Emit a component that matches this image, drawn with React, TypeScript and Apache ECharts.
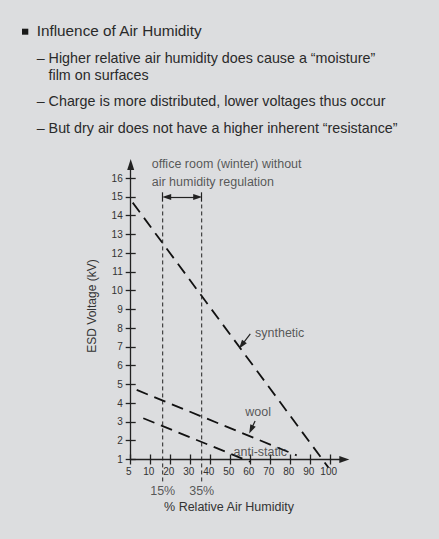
import React, { useEffect, useRef } from "react";
import * as echarts from "echarts";

// ---- data ----
const xTickValues = [0, 10, 20, 30, 40, 50, 60, 70, 80, 90, 100];
const xTickLabels = ["5", "10", "20", "30", "40", "50", "60", "70", "80", "90", "100"];
const yTickValues = [1, 2, 3, 4, 5, 6, 7, 8, 9, 10, 11, 12, 13, 14, 15, 16];

const syntheticLine = [[1, 14.7], [98.8, 0.58]];
const woolLine = [[3, 4.71], [83, 1.22]];
const antiStaticLine = [[6.3, 3.2], [59.7, 0.88]];

const officeBand = [16, 35.5];
const officeBandLabels = ["15%", "35%"];
const officeLineSpan = [-0.17, 14.6];
const officeArrowY = 15.0;
const officeBarSpan = [14.75, 15.25];

const curveNames = ["synthetic", "wool", "anti-static"];
const curveLabelPos = [[74.5, 7.73], [63.7, 3.51], [64.8, 1.42]];
const curveArrowFrom = [[59.8, 7.7], [62.2, 3.05]];
const curveArrowTo = [[55.5, 7.1], [60.2, 2.6]];

const officeText = "office room (winter) without\nair humidity regulation";
const officeTextPos = [10.5, 16.29];

const bullets = [
  "Influence of Air Humidity",
  "– Higher relative air humidity does cause a “moisture”",
  "film on surfaces",
  "– Charge is more distributed, lower voltages thus occur",
  "– But dry air does not have a higher inherent “resistance”",
];

const FONT = "'Liberation Sans', Arial, Helvetica, sans-serif";
const INK = "#222";
const TXT = "#333";

export default function App() {
  const ref = useRef<HTMLDivElement>(null);
  useEffect(() => {
    if (!ref.current) return;
    const chart = echarts.init(ref.current, undefined, { renderer: "svg" });

    const dashedCurve = (name: string, data: number[][]) => ({
      type: "line",
      name,
      data,
      symbol: "none",
      clip: false,
      silent: true,
      lineStyle: { color: "#111", width: 1.8, type: [12, 7] },
      z: 3,
    });

    const vLines = officeBand.map((x, i) => ({
      type: "line",
      name: "office" + i,
      data: [[x, officeLineSpan[0]], [x, officeLineSpan[1]]],
      symbol: "none",
      clip: false,
      silent: true,
      lineStyle: { color: INK, width: 1, type: [4, 3] },
    }));

    const markData: any[] = [
      [
        { coord: [officeBand[0] + 2, officeArrowY], symbol: "triangle" },
        { coord: [officeBand[1] - 2, officeArrowY], symbol: "triangle" },
      ],
      ...officeBand.map((x) => [
        { coord: [x, officeBarSpan[0]], symbol: "none" },
        { coord: [x, officeBarSpan[1]], symbol: "none" },
      ]),
      ...curveArrowFrom.map((f, i) => [
        { coord: f, symbol: "none" },
        { coord: curveArrowTo[i], symbol: "triangle" },
      ]),
    ];

    const annotations = [
      ...curveNames.map((n, i) => ({
        name: n,
        value: curveLabelPos[i],
        label: { position: "inside" },
      })),
      ...officeBand.map((x, i) => ({
        name: officeBandLabels[i],
        value: [x, officeLineSpan[0]],
        label: { position: "bottom", distance: 3 },
      })),
      {
        name: officeText,
        value: officeTextPos,
        label: { position: "right", distance: 0, align: "left", lineHeight: 17.7 },
      },
    ];

    const lineTop = [
      { y: 30.4, x: 36.7, t: bullets[0], fs: 15.3 },
      { y: 58, x: 36.7, t: bullets[1], fs: 14.3 },
      { y: 74.7, x: 48.5, t: bullets[2], fs: 14.3 },
      { y: 101.4, x: 36.7, t: bullets[3], fs: 14.3 },
      { y: 128, x: 36.7, t: bullets[4], fs: 14.3 },
    ];

    chart.setOption({
      animation: false,
      backgroundColor: "#dcdddf",
      textStyle: { fontFamily: FONT },
      grid: { left: 130.7, right: 94.7, top: 164.5, bottom: 79.5, containLabel: false },
      xAxis: [
        {
          type: "value",
          min: 0,
          max: 106.8,
          interval: 10,
          name: "% Relative Air Humidity",
          nameLocation: "middle",
          nameGap: 41,
          nameTextStyle: { fontSize: 12.5, color: TXT, fontFamily: FONT, padding: [0, 17, 0, 0] },
          splitLine: { show: false },
          axisLine: {
            onZero: false,
            symbol: ["none", "triangle"],
            symbolSize: [7, 10],
            lineStyle: { color: INK, width: 1.3 },
          },
          axisTick: { customValues: xTickValues, length: 5, lineStyle: { color: INK, width: 1.3 } },
          axisLabel: {
            customValues: xTickValues,
            formatter: (v: number) => xTickLabels[xTickValues.indexOf(v)] ?? "",
            fontSize: 10,
            color: TXT,
            margin: 7,
            padding: [0, 4, 0, 0],
            fontFamily: FONT,
          },
        },
        {
          type: "value",
          min: 0,
          max: 106.8,
          interval: 10,
          position: "bottom",
          splitLine: { show: false },
          axisLine: { show: false, onZero: false },
          axisTick: { customValues: xTickValues, inside: true, length: 5, lineStyle: { color: INK, width: 1.3 } },
          axisLabel: { show: false },
        },
      ],
      yAxis: [
        {
          type: "value",
          min: 1,
          max: 16.733,
          interval: 1,
          name: "ESD Voltage (kV)",
          nameLocation: "middle",
          nameGap: 33,
          nameTextStyle: { fontSize: 12, color: TXT, fontFamily: FONT, padding: [0, 0, 0, 12] },
          splitLine: { show: false },
          axisLine: {
            onZero: false,
            symbol: ["none", "triangle"],
            symbolSize: [7, 11],
            lineStyle: { color: INK, width: 1.3 },
          },
          axisTick: { customValues: yTickValues, length: 5, lineStyle: { color: INK, width: 1.3 } },
          axisLabel: { customValues: yTickValues, fontSize: 10, color: TXT, margin: 8, fontFamily: FONT },
        },
        {
          type: "value",
          min: 1,
          max: 16.733,
          interval: 1,
          position: "left",
          splitLine: { show: false },
          axisLine: { show: false, onZero: false },
          axisTick: { customValues: yTickValues, inside: true, length: 5, lineStyle: { color: INK, width: 1.3 } },
          axisLabel: { show: false },
        },
      ],
      graphic: [
        { type: "rect", shape: { x: 22, y: 28.7, width: 6.3, height: 6 }, style: { fill: "#1a1a1a" } },
        ...lineTop.map((l) => ({
          type: "text",
          x: l.x,
          y: l.y,
          style: {
            text: l.t,
            fill: "#2a2a2a",
            font: `${l.fs}px ${FONT}`,
            verticalAlign: "middle",
            align: "left",
          },
        })),
      ],
      series: [
        dashedCurve("synthetic", syntheticLine),
        dashedCurve("wool", woolLine),
        dashedCurve("anti-static", antiStaticLine),
        ...vLines,
        {
          type: "scatter",
          name: "annotations",
          data: annotations,
          symbolSize: 0,
          clip: false,
          silent: true,
          z: 5,
          label: {
            show: true,
            formatter: "{b}",
            fontSize: 12.5,
            color: TXT,
            fontFamily: FONT,
          },
          markLine: {
            silent: true,
            animation: false,
            symbolSize: [6, 9],
            label: { show: false },
            lineStyle: { color: INK, width: 1.2, type: "solid" },
            emphasis: { disabled: true },
            data: markData,
          },
        },
      ],
    });
    return () => chart.dispose();
  }, []);
  return (
    <div
      ref={ref}
      style={{ position: "fixed", left: 0, top: 0, width: 439, height: 539 }}
    />
  );
}
